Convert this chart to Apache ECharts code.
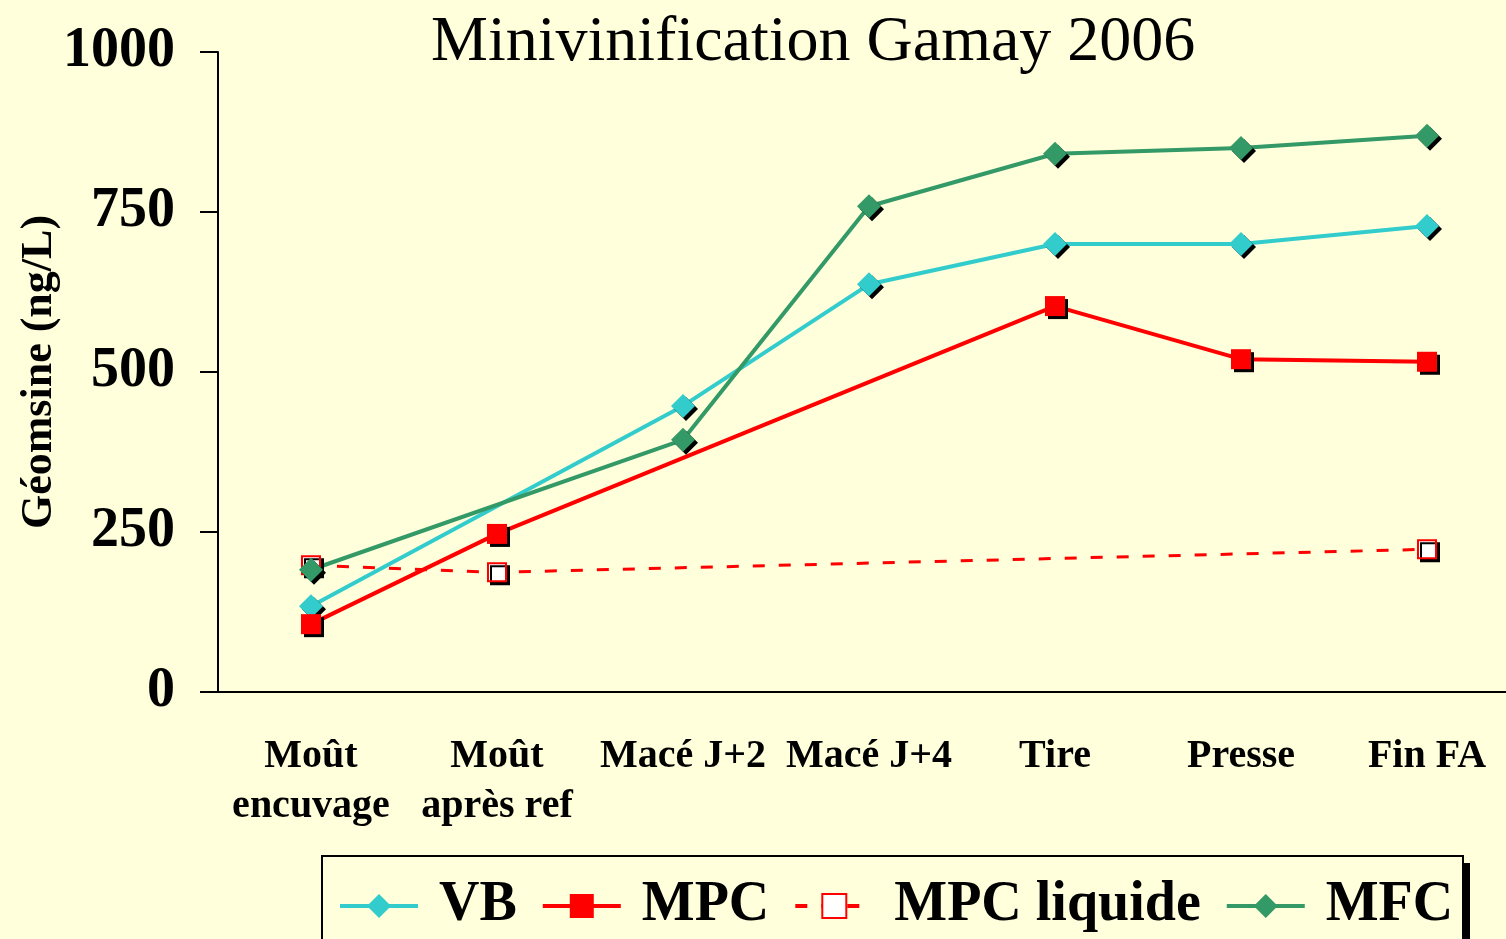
<!DOCTYPE html>
<html>
<head>
<meta charset="utf-8">
<script src="https://cdn.jsdelivr.net/npm/echarts@6/dist/echarts.min.js"></script>
<style>
  html, body { margin: 0; padding: 0; background: #ffffdc; overflow: hidden; }
  /* le graphique déborde un peu à droite, comme l'original */
  #chart { width: 1520px; height: 939px; }
</style>
</head>
<body>
<div id="chart"></div>
<script>
// stades de vinification
var categories = ['Moût\nencuvage', 'Moût\naprès ref', 'Macé J+2', 'Macé J+4', 'Tire', 'Presse', 'Fin FA'];
// géosmine (ng/L), null = pas de mesure
var vbData = [134, null, 447, 637, 700, 700, 728];
var mpcData = [106, 247, null, null, 603, 520, 516];
var mpcLiquideData = [198, 187, null, null, null, null, 223];
var mfcData = [191, null, 394, 759, 841, 850, 869];
var yTicks = [0, 250, 500, 750, 1000];

var serif = '"Liberation Serif", "Times New Roman", serif';
var chart = echarts.init(document.getElementById('chart'));

var markShadow = { shadowColor: '#000', shadowBlur: 0, shadowOffsetX: 3, shadowOffsetY: 3 };

function lineSerie(name, data, color, symbol, size, dashed) {
    return {
        name: name,
        type: 'line',
        data: data,
        connectNulls: true,
        symbol: symbol,
        symbolSize: size,
        showAllSymbol: true,
        animation: false,
        z: 3,
        lineStyle: { color: color, width: dashed ? 3 : 4, type: dashed ? [12, 14] : 'solid' },
        itemStyle: Object.assign({ color: color, borderColor: color, borderWidth: dashed ? 2 : 0 }, markShadow)
    };
}

chart.setOption({
    backgroundColor: '#ffffdc',
    textStyle: { fontFamily: serif },
    title: {
        text: 'Minivinification Gamay 2006',
        left: 426,
        top: 6,
        textStyle: { fontFamily: serif, fontWeight: 'normal', fontSize: 64, color: '#000' }
    },
    // cadre de la légende + ombre
    graphic: [{
        type: 'rect',
        z: 1,
        shape: { x: 329, y: 863, width: 1141, height: 100 },
        style: { fill: '#000' }
    }, {
        type: 'rect',
        z: 2,
        shape: { x: 322, y: 856, width: 1141, height: 100 },
        style: { fill: '#ffffdc', stroke: '#000', lineWidth: 2 }
    }],
    legend: {
        left: 338,
        top: 878,
        z: 10,
        padding: 0,
        itemGap: 24,
        itemWidth: 78,
        itemHeight: 30,
        lineStyle: { width: 4 },
        itemStyle: { shadowColor: 'transparent', shadowOffsetX: 0, shadowOffsetY: 0 },
        textStyle: { fontFamily: serif, fontWeight: 'bold', fontSize: 56, color: '#000', padding: [0, 0, 0, 16] },
        data: ['VB', 'MPC', 'MPC liquide', 'MFC']
    },
    grid: { left: 218, top: 52, right: 0, bottom: 247, containLabel: false },
    xAxis: {
        type: 'category',
        data: categories,
        axisLine: { lineStyle: { color: '#000', width: 2 } },
        axisTick: { length: 13, lineStyle: { color: '#000', width: 2 } },
        axisLabel: {
            margin: 40,
            fontFamily: serif,
            fontWeight: 'bold',
            fontSize: 40,
            lineHeight: 50,
            color: '#000',
            interval: 0
        }
    },
    yAxis: {
        type: 'value',
        min: yTicks[0],
        max: yTicks[yTicks.length - 1],
        interval: 250,
        name: 'Géomsine (ng/L)',
        nameLocation: 'middle',
        nameGap: 156,
        nameMoveOverlap: false,
        nameTextStyle: { fontFamily: serif, fontWeight: 'bold', fontSize: 44, color: '#000' },
        axisLine: { show: true, lineStyle: { color: '#000', width: 2 } },
        axisTick: { show: true, length: 18, lineStyle: { color: '#000', width: 2 } },
        splitLine: { show: false },
        axisLabel: {
            margin: 43, fontFamily: serif, fontWeight: 'bold', fontSize: 56, color: '#000',
            formatter: function (v) { return String(v); }
        }
    },
    series: [
        lineSerie('VB', vbData, '#33cccc', 'diamond', 24, false),
        lineSerie('MPC', mpcData, '#ff0000', 'rect', 20, false),
        lineSerie('MPC liquide', mpcLiquideData, '#ff0000', 'emptyRect', 18, true),
        lineSerie('MFC', mfcData, '#339966', 'diamond', 24, false)
    ]
});
</script>
</body>
</html>
